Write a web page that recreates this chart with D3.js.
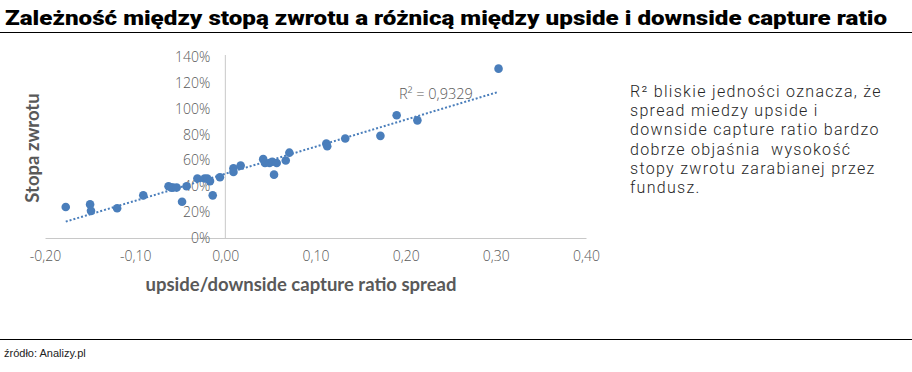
<!DOCTYPE html>
<meta charset="utf-8">
<style>
body { margin: 0; background: #fff; }
svg { display: block; font-family: "Lato", "Open Sans", sans-serif; }
.title { font-family: "Roboto", sans-serif; font-weight: 900; font-size: 20px; fill: #000; }
.tick text { font-family: "Open Sans", sans-serif; font-weight: 300; fill: #595959; }
.axis-title { font-family: "Lato", sans-serif; font-weight: 700; fill: #595959; }
.note { font-family: "Roboto", sans-serif; font-weight: 300; font-size: 16px; letter-spacing: 1.3px; fill: #262626; white-space: pre; }
.source { font-family: "Liberation Sans", Arial, sans-serif; font-size: 11px; fill: #222; }
</style>
<svg width="912" height="372"></svg>
<script src="https://cdn.jsdelivr.net/npm/d3@7"></script>
<script>

var titleText = "Zależność między stopą zwrotu a różnicą między upside i downside capture ratio";
var xLabel = "upside/downside capture ratio spread";
var yLabel = "Stopa zwrotu";
var r2Label = "R² = 0,9329";
var noteLines = [
  "R² bliskie jedności oznacza, że",
  "spread miedzy upside i",
  "downside capture ratio bardzo",
  "dobrze objaśnia  wysokość",
  "stopy zwrotu zarabianej przez",
  "fundusz."
];
var sourceText = "źródło: Analizy.pl";

var xTicks = [-0.2, -0.1, 0, 0.1, 0.2, 0.3, 0.4];
var yTicks = [0, 0.2, 0.4, 0.6, 0.8, 1.0, 1.2, 1.4];

// upside/downside capture ratio spread
var spread = [-0.177, -0.150, -0.149, -0.120, -0.091, -0.063, -0.060, -0.058, -0.054,
  -0.043, -0.048, -0.031, -0.023, -0.020, -0.017, -0.014, -0.006, 0.009, 0.009,
  0.017, 0.042, 0.044, 0.049, 0.052, 0.057, 0.054, 0.067, 0.071, 0.112, 0.113,
  0.133, 0.172, 0.190, 0.213, 0.303];
// stopa zwrotu
var returns = [0.24, 0.26, 0.21, 0.23, 0.33, 0.40, 0.39, 0.39, 0.39,
  0.40, 0.28, 0.46, 0.46, 0.46, 0.44, 0.33, 0.47, 0.54, 0.51,
  0.56, 0.61, 0.58, 0.58, 0.59, 0.58, 0.49, 0.60, 0.66, 0.73, 0.71,
  0.77, 0.79, 0.95, 0.91, 1.31];

var svg = d3.select("svg");

var x = d3.scaleLinear().domain([-0.2, 0.4]).range([45, 586]);
var y = d3.scaleLinear().domain([0, 1.4]).range([238, 57]);

var dot = "#4a7ebb";

// title
svg.append("text")
    .attr("class", "title")
    .attr("x", 5)
    .attr("y", 25)
    .attr("textLength", 882)
    .attr("lengthAdjust", "spacingAndGlyphs")
    .text(titleText);

svg.append("line")
    .attr("x1", 0).attr("x2", 912)
    .attr("y1", 32.5).attr("y2", 32.5)
    .attr("stroke", "#000");

// axes
function fmtX(d) {
  return (d < 0 ? "-" : "") + d3.format(".2f")(Math.abs(d)).replace(".", ",");
}

var xAxis = svg.append("g")
    .attr("transform", "translate(0," + y(0) + ")")
    .call(d3.axisBottom(x).tickValues(xTicks).tickFormat(fmtX).tickSize(0).tickPadding(13));
xAxis.selectAll(".tick text").style("font-size", "14px");

var yAxis = svg.append("g")
    .attr("transform", "translate(" + x(0) + ",0)")
    .call(d3.axisLeft(y).tickValues(yTicks).tickFormat(d3.format(".0%")).tickSize(0).tickPadding(15));
yAxis.selectAll(".tick text").style("font-size", "14px");

svg.selectAll(".domain").attr("stroke", "#c8c8c8").attr("stroke-width", 1);
yAxis.select(".domain").attr("d", "M0," + (y(0)) + "V55");

svg.append("text")
    .attr("class", "axis-title")
    .attr("x", 301)
    .attr("y", 291)
    .attr("text-anchor", "middle")
    .style("font-size", "18.5px")
    .text(xLabel);

svg.append("text")
    .attr("class", "axis-title")
    .attr("transform", "translate(39,148) rotate(-90)")
    .attr("text-anchor", "middle")
    .style("font-size", "18.5px")
    .text(yLabel);

// linear trendline (least squares)
var mx = d3.mean(spread), my = d3.mean(returns);
var sxy = d3.sum(spread, function(v, i) { return (v - mx) * (returns[i] - my); });
var sxx = d3.sum(spread, function(v) { return (v - mx) * (v - mx); });
var slope = sxy / sxx, icpt = my - slope * mx;
var ext = d3.extent(spread);

svg.append("line")
    .attr("x1", x(ext[0])).attr("y1", y(icpt + slope * ext[0]))
    .attr("x2", x(ext[1])).attr("y2", y(icpt + slope * ext[1]))
    .attr("stroke", dot)
    .attr("stroke-width", 2)
    .attr("stroke-dasharray", "2,2");

// points
svg.append("g")
  .selectAll("circle")
    .data(spread)
  .enter().append("circle")
    .attr("cx", function(d) { return x(d); })
    .attr("cy", function(d, i) { return y(returns[i]); })
    .attr("r", 4.3)
    .attr("fill", dot);

svg.append("text")
    .attr("x", 399)
    .attr("y", 99)
    .attr("fill", "#595959")
    .style("font-family", "'Open Sans', sans-serif")
    .style("font-weight", 300)
    .style("font-size", "14.5px")
    .text(r2Label);

// note
svg.append("g")
  .selectAll("text")
    .data(noteLines)
  .enter().append("text")
    .attr("class", "note")
    .attr("x", 630)
    .attr("y", function(d, i) { return 97 + i * 19.2; })
    .text(function(d) { return d; });

// footer
svg.append("line")
    .attr("x1", 0).attr("x2", 912)
    .attr("y1", 339.5).attr("y2", 339.5)
    .attr("stroke", "#000");

svg.append("text")
    .attr("class", "source")
    .attr("x", 4)
    .attr("y", 357)
    .text(sourceText);

</script>
